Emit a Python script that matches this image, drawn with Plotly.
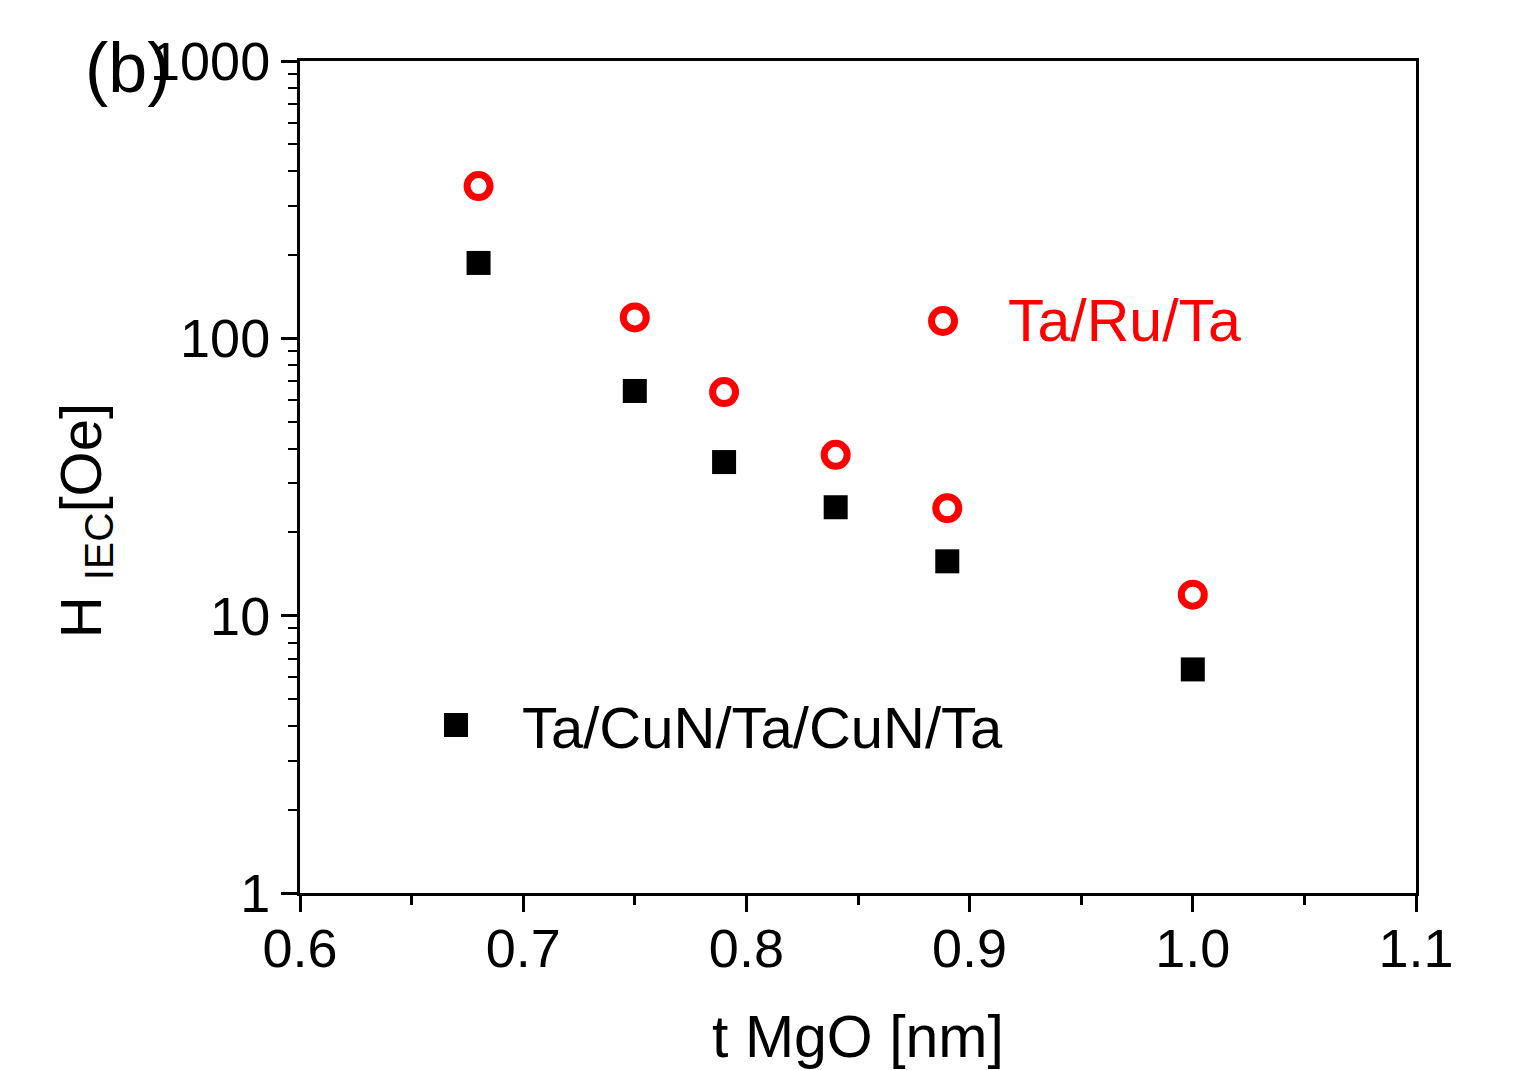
import plotly.graph_objects as go

# Data
t_mgo = [0.68, 0.75, 0.79, 0.84, 0.89, 1.00]
h_ta_ru_ta = [354, 119, 64, 38, 24.4, 11.9]
h_ta_cun = [187, 64.6, 35.8, 24.6, 15.7, 6.4]

y_tickvals = [1, 10, 100, 1000]
y_ticktext = ["1", "10", "100", "1000"]
x_tickvals = [0.6, 0.7, 0.8, 0.9, 1.0, 1.1]
x_ticktext = ["0.6", "0.7", "0.8", "0.9", "1.0", "1.1"]

FONT = "Liberation Sans, Arial, sans-serif"
RED = "#ff0000"

fig = go.Figure()
fig.add_trace(go.Scatter(
    x=t_mgo, y=h_ta_cun, mode="markers", name="Ta/CuN/Ta/CuN/Ta",
    marker=dict(symbol="square", size=24, color="black", line=dict(width=0)),
    showlegend=False))
fig.add_trace(go.Scatter(
    x=t_mgo, y=h_ta_ru_ta, mode="markers", name="Ta/Ru/Ta",
    marker=dict(symbol="circle-open", size=23, color=RED, line=dict(width=7, color=RED)),
    showlegend=False))

axis_common = dict(
    showline=True, linecolor="black", linewidth=3, mirror=True,
    ticks="outside", tickwidth=3, tickcolor="black", ticklen=16,
    showgrid=False, zeroline=False, automargin=False,
    tickfont=dict(family=FONT, size=54, color="black"),
)

fig.update_xaxes(
    range=[0.6, 1.1], tickvals=x_tickvals, ticktext=x_ticktext,
    ticklabelstandoff=-10,
    minor=dict(ticks="outside", ticklen=9, tickwidth=3, tickcolor="black", dtick=0.05, showgrid=False),
    title=dict(text="t MgO [nm]", font=dict(family=FONT, size=59, color="black"), standoff=45),
    **axis_common)
fig.update_yaxes(
    type="log", range=[0, 3], tickvals=y_tickvals, ticktext=y_ticktext,
    minor=dict(ticks="outside", ticklen=9, tickwidth=2, tickcolor="black", dtick="D1", showgrid=False),
    **axis_common)

# y axis title as annotation (positioned like the reference)
fig.add_annotation(text="H <sub>IEC</sub>[Oe]", xref="paper", yref="paper",
                   x=-0.1927, y=0.448, textangle=-90, showarrow=False,
                   xanchor="center", yanchor="middle",
                   font=dict(family=FONT, size=58, color="black"))
# panel label
fig.add_annotation(text="(b)", xref="paper", yref="paper", x=-0.154, y=0.992,
                   showarrow=False, xanchor="center", yanchor="middle",
                   font=dict(family=FONT, size=70, color="black"))

# legend keys and labels
fig.add_shape(type="circle", xref="paper", yref="paper", xsizemode="pixel", ysizemode="pixel",
              xanchor=0.5762, yanchor=0.6875, x0=-11.5, x1=11.5, y0=-11.5, y1=11.5,
              line=dict(color=RED, width=7), fillcolor="rgba(0,0,0,0)")
fig.add_annotation(text="Ta/Ru/Ta", xref="paper", yref="paper", x=0.6326, y=0.6875,
                   showarrow=False, xanchor="left", yanchor="middle",
                   font=dict(family=FONT, size=59, color=RED))
fig.add_shape(type="rect", xref="paper", yref="paper", xsizemode="pixel", ysizemode="pixel",
              xanchor=0.1398, yanchor=0.2019, x0=-12, x1=12, y0=-12, y1=12,
              line=dict(width=0), fillcolor="black")
fig.add_annotation(text="Ta/CuN/Ta/CuN/Ta", xref="paper", yref="paper", x=0.1971, y=0.1995,
                   showarrow=False, xanchor="left", yanchor="middle",
                   font=dict(family=FONT, size=58, color="black"))

fig.update_layout(
    width=1515, height=1070,
    margin=dict(l=300, r=99, t=61, b=177, autoexpand=False),
    paper_bgcolor="white", plot_bgcolor="white",
    font=dict(family=FONT, color="black"),
)

fig.write_html("out.html")
